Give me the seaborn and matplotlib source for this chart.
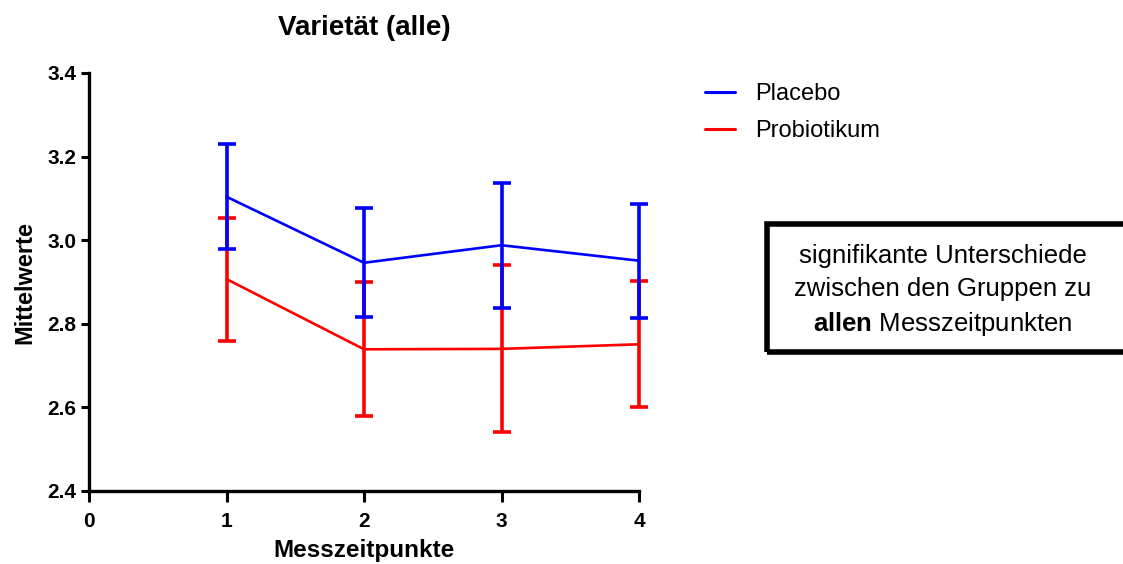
import matplotlib
matplotlib.use("Agg")
import matplotlib.pyplot as plt
import numpy as np
import pandas as pd
import seaborn as sns
from matplotlib.lines import Line2D
from matplotlib.patches import Rectangle

# Daten
zeitpunkte = [1, 2, 3, 4]
placebo_mw = [3.104, 2.946, 2.988, 2.951]
placebo_err = [0.125, 0.130, 0.150, 0.136]
probio_mw = [2.907, 2.739, 2.740, 2.751]
probio_err = [0.147, 0.160, 0.200, 0.151]
gruppen = ["Placebo", "Probiotikum"]
farben = {"Placebo": "#0000FF", "Probiotikum": "#FF0000"}

sns.set_style("ticks")
plt.rcParams["font.family"] = ["Liberation Sans", "DejaVu Sans"]
plt.rcParams["mathtext.fontset"] = "custom"
plt.rcParams["mathtext.rm"] = "Liberation Sans"
plt.rcParams["mathtext.bf"] = "Liberation Sans:bold"
for k in ["text.color", "axes.labelcolor", "xtick.color", "ytick.color", "axes.edgecolor"]:
    plt.rcParams[k] = "black"

df = pd.DataFrame({
    "Messzeitpunkt": zeitpunkte * 2,
    "Mittelwert": placebo_mw + probio_mw,
    "Fehler": placebo_err + probio_err,
    "Gruppe": ["Placebo"] * 4 + ["Probiotikum"] * 4,
})

fig = plt.figure(figsize=(11.23, 5.64), dpi=100)
ax = fig.add_axes([89 / 1123, 1 - 491 / 564, 550 / 1123, 418 / 564])

# rot zuerst, blau darüber
for g in ["Probiotikum", "Placebo"]:
    sub = df[df["Gruppe"] == g]
    eb = ax.errorbar(sub["Messzeitpunkt"], sub["Mittelwert"], yerr=sub["Fehler"],
                     fmt="none", ecolor=farben[g], elinewidth=2.6, capsize=6.8,
                     capthick=2.6, zorder=2)
    for art in eb.lines[1] + eb.lines[2]:
        art.set_clip_on(False)
sns.lineplot(data=df, x="Messzeitpunkt", y="Mittelwert", hue="Gruppe",
             hue_order=["Probiotikum", "Placebo"], palette=farben,
             linewidth=1.9, legend=False, ax=ax, zorder=3)
for ln in ax.lines:
    ln.set_clip_on(False)

ax.set_xlim(0, 4)
ax.set_ylim(2.4, 3.4)
ax.set_xticks([0, 1, 2, 3, 4])
ax.set_yticks([2.4, 2.6, 2.8, 3.0, 3.2, 3.4])
ax.set_yticklabels(["2.4", "2.6", "2.8", "3.0", "3.2", "3.4"])
for lab in ax.get_xticklabels() + ax.get_yticklabels():
    lab.set_fontweight("bold")
ax.tick_params(axis="both", direction="out", width=2.2, labelsize=15)
ax.tick_params(axis="y", length=6, pad=3)
ax.tick_params(axis="x", length=8, pad=7)
for s in ["left", "bottom"]:
    ax.spines[s].set_linewidth(2.4)
sns.despine(ax=ax)

ax.set_xlabel("Messzeitpunkte", fontsize=17.5, fontweight="bold", labelpad=6)
ax.set_ylabel("Mittelwerte", fontsize=17, fontweight="bold", labelpad=8)
fig.text(364 / 1123, 1 - 28 / 564, "Varietät (alle)", fontsize=20,
         fontweight="bold", ha="center", va="center")

handles = [Line2D([0], [0], color=farben[g], lw=2.2) for g in gruppen]
fig.legend(handles, gruppen, loc="upper left", bbox_to_anchor=(705 / 1123, 1 - 83 / 564),
           frameon=False, fontsize=17, handlelength=1.27, handletextpad=0.85,
           labelspacing=0.65, borderpad=0, borderaxespad=0)

# Textbox
fig.patches.append(Rectangle((767 / 1123, 1 - 352 / 564), 400 / 1123, 128 / 564,
                             transform=fig.transFigure, fill=False, edgecolor="black",
                             linewidth=4, zorder=5))
fig.text(943 / 1123, 1 - 291 / 564,
         "signifikante Unterschiede\nzwischen den Gruppen zu\n$\\bf{allen}$ Messzeitpunkten",
         ha="center", va="center", multialignment="center", fontsize=18.5,
         linespacing=1.45)

fig.savefig("out.png", dpi=100)
